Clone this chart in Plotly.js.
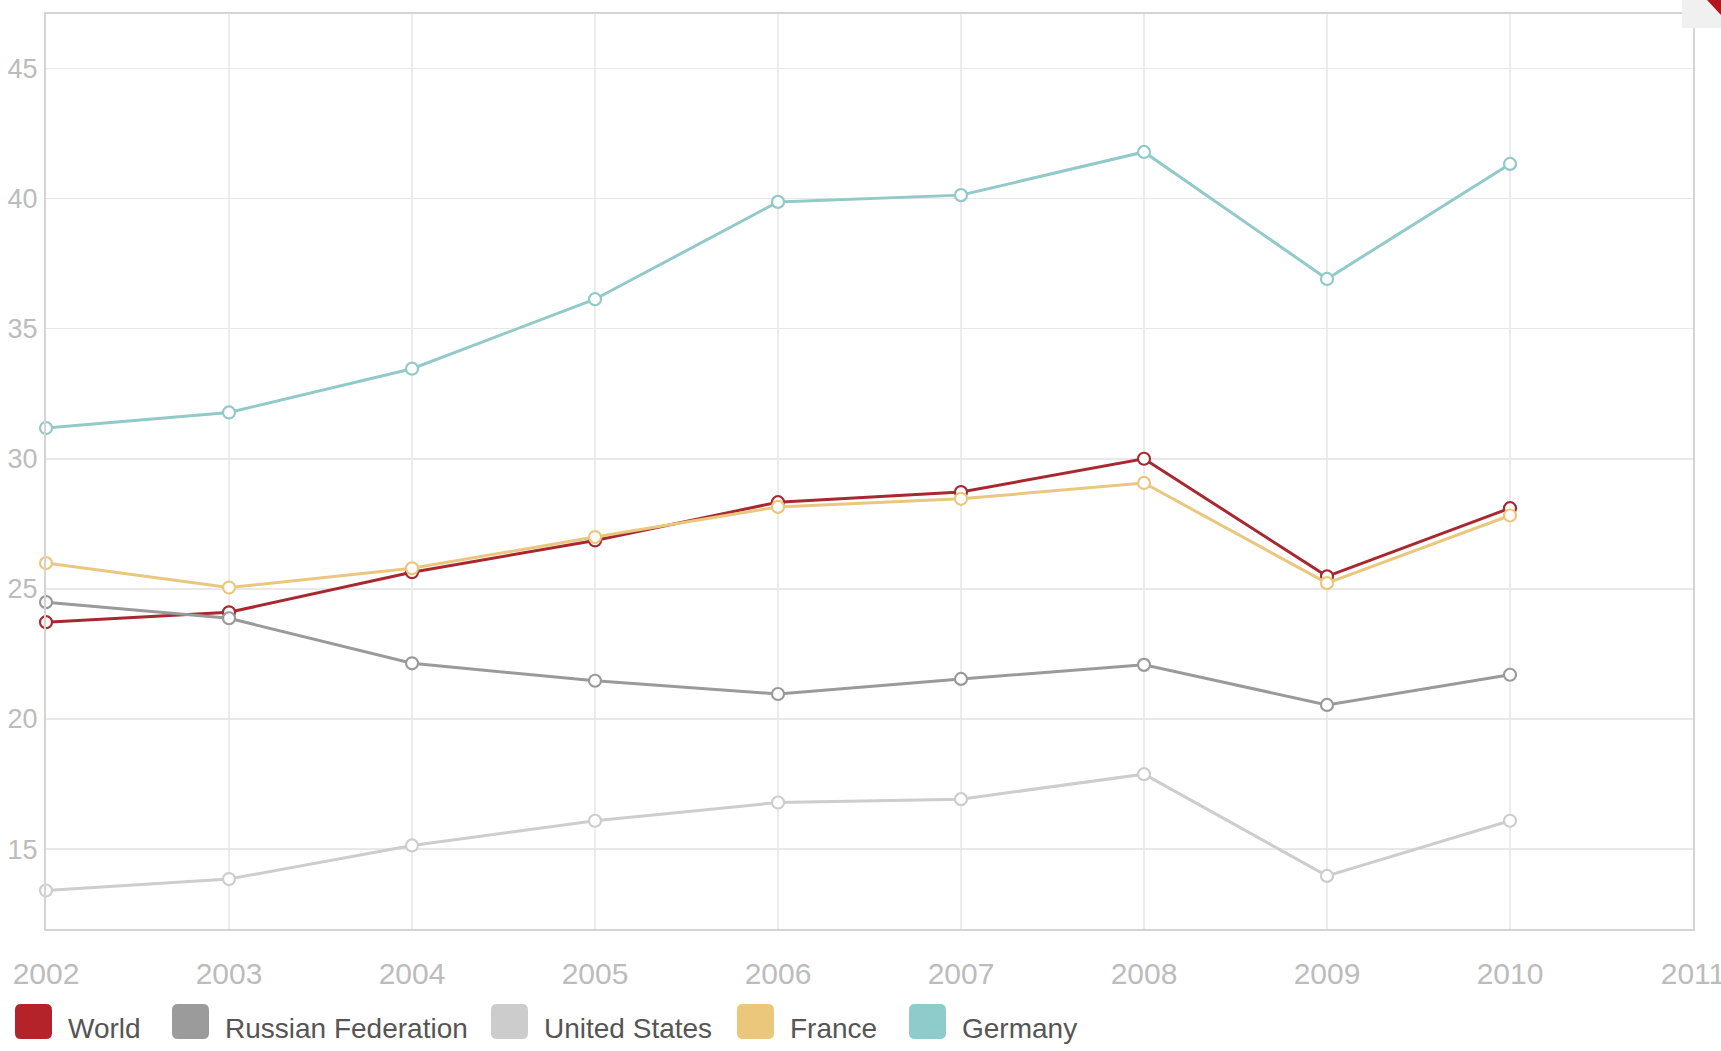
<!DOCTYPE html>
<html>
<head>
<meta charset="utf-8">
<script src="https://cdn.plot.ly/plotly-3.0.1.min.js"></script>
<style>html,body{margin:0;padding:0;background:#fff;}</style>
</head>
<body>
<div id="chart" style="width:1721px;height:1051px;"></div>
<script>
// ---- data ----
const years = [2002, 2003, 2004, 2005, 2006, 2007, 2008, 2009, 2010];
const world = [23.72, 24.10, 25.64, 26.86, 28.33, 28.72, 30.00, 25.48, 28.10];
const russia = [24.49, 23.87, 22.14, 21.47, 20.96, 21.54, 22.08, 20.54, 21.70];
const unitedStates = [13.41, 13.85, 15.14, 16.09, 16.79, 16.92, 17.88, 13.97, 16.09];
const france = [25.99, 25.05, 25.79, 26.99, 28.15, 28.46, 29.07, 25.22, 27.82];
const germany = [31.18, 31.78, 33.46, 36.13, 39.87, 40.13, 41.79, 36.91, 41.33];
const seriesNames = ['World', 'Russian Federation', 'United States', 'France', 'Germany'];
const xTickVals = [2002, 2003, 2004, 2005, 2006, 2007, 2008, 2009, 2010, 2011];
const yTickVals = [15, 20, 25, 30, 35, 40, 45];

// ---- styles ----
const seriesValues = [world, russia, unitedStates, france, germany];
const lineColors = ['#a82830', '#9a9a9a', '#cdcdcd', '#e9c77e', '#92c9c9'];
const swatchColors = ['#b5232a', '#9b9b9b', '#cccccc', '#ebc77c', '#8ecccb'];
const FONT = '"Liberation Sans", Arial, sans-serif';

const W = 1721, H = 1051;
const M = {l: 46, r: 28, t: 14, b: 122};
const PW = W - M.l - M.r, PH = H - M.t - M.b;
const px2x = p => (p - M.l) / PW;
const px2y = p => (H - M.b - p) / PH;

const traces = seriesNames.map((name, i) => ({
  type: 'scatter',
  mode: 'lines+markers',
  name: name,
  x: years,
  y: seriesValues[i],
  cliponaxis: false,
  showlegend: false,
  line: {color: lineColors[i], width: 3},
  marker: {symbol: 'circle', size: 12, color: '#ffffff', line: {color: lineColors[i], width: 2.2}},
  hoverinfo: 'x+y+name'
}));

// ---- custom legend (large rounded swatches) ----
const legendFontSize = 28;
const legendSwatchLeft = [15, 172, 491, 737, 909];
function roundRect(x0, y0, x1, y1, r) {
  const P = (x, y) => px2x(x).toFixed(5) + ',' + px2y(y).toFixed(5);
  return 'M' + P(x0 + r, y0) + ' L' + P(x1 - r, y0) + ' Q' + P(x1, y0) + ' ' + P(x1, y0 + r) +
    ' L' + P(x1, y1 - r) + ' Q' + P(x1, y1) + ' ' + P(x1 - r, y1) +
    ' L' + P(x0 + r, y1) + ' Q' + P(x0, y1) + ' ' + P(x0, y1 - r) +
    ' L' + P(x0, y0 + r) + ' Q' + P(x0, y0) + ' ' + P(x0 + r, y0) + ' Z';
}

const shapes = [];
const annotations = [];
const swW = 37, swTop = 1004, swBot = 1039, textGap = 14;
seriesNames.forEach((name, i) => {
  const x0 = legendSwatchLeft[i];
  shapes.push({type: 'path', xref: 'paper', yref: 'paper', path: roundRect(x0, swTop, x0 + swW, swBot, 6),
    fillcolor: swatchColors[i], line: {width: 0}, layer: 'above'});
  annotations.push({xref: 'paper', yref: 'paper', x: px2x(x0 + swW + textGap), y: px2y(1028), xanchor: 'left', yanchor: 'middle',
    text: name, showarrow: false, font: {family: FONT, size: legendFontSize, color: '#555555'}});
});

// top-right page widget
shapes.push({type: 'rect', xref: 'paper', yref: 'paper', x0: px2x(1682), x1: px2x(1721), y0: px2y(28), y1: px2y(0),
  fillcolor: '#f0f0f0', line: {width: 0}, layer: 'above'});
shapes.push({type: 'path', xref: 'paper', yref: 'paper',
  path: 'M' + px2x(1707) + ',' + px2y(0) + ' L' + px2x(1721) + ',' + px2y(0) + ' L' + px2x(1721) + ',' + px2y(15) + ' Z',
  fillcolor: '#b0161d', line: {width: 0}, layer: 'above'});

const layout = {
  width: W, height: H, autosize: false,
  margin: M,
  paper_bgcolor: '#ffffff', plot_bgcolor: '#ffffff',
  showlegend: false,
  font: {family: FONT, color: '#bbbbbb'},
  xaxis: {
    range: [2002, 2011], tickmode: 'array', tickvals: xTickVals, ticktext: xTickVals.map(String),
    showgrid: true, gridcolor: '#ececec', gridwidth: 1.5, zeroline: false,
    showline: true, mirror: true, linecolor: '#d4d4d4', linewidth: 2,
    ticks: '', ticklabelstandoff: 17, ticklabeloverflow: 'allow',
    tickfont: {family: FONT, size: 30, color: '#bcbcbc'}
  },
  yaxis: {
    range: [11.93, 47.09], tickmode: 'array', tickvals: yTickVals, ticktext: yTickVals.map(String),
    showgrid: true, gridcolor: '#e8e8e8', gridwidth: 1.5, zeroline: false,
    showline: true, mirror: true, linecolor: '#d4d4d4', linewidth: 2,
    ticks: '', ticklabelstandoff: 1, ticklabeloverflow: 'allow',
    tickfont: {family: FONT, size: 27, color: '#bcbcbc'}
  },
  shapes: shapes,
  annotations: annotations
};

Plotly.newPlot('chart', traces, layout, {displayModeBar: false, staticPlot: true});
</script>
</body>
</html>
